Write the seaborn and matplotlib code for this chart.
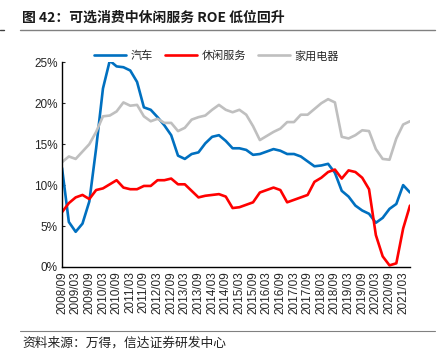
import matplotlib
matplotlib.use("Agg")
import matplotlib.pyplot as plt
import pandas as pd
import seaborn as sns

# quarterly ROE (%), 2008/09 .. 2021/06
quarters = [
    "2008/09", "2008/12", "2009/03", "2009/06", "2009/09", "2009/12",
    "2010/03", "2010/06", "2010/09", "2010/12", "2011/03", "2011/06",
    "2011/09", "2011/12", "2012/03", "2012/06", "2012/09", "2012/12",
    "2013/03", "2013/06", "2013/09", "2013/12", "2014/03", "2014/06",
    "2014/09", "2014/12", "2015/03", "2015/06", "2015/09", "2015/12",
    "2016/03", "2016/06", "2016/09", "2016/12", "2017/03", "2017/06",
    "2017/09", "2017/12", "2018/03", "2018/06", "2018/09", "2018/12",
    "2019/03", "2019/06", "2019/09", "2019/12", "2020/03", "2020/06",
    "2020/09", "2020/12", "2021/03", "2021/06",
]
auto = [
    12.1, 5.5, 4.3, 5.3, 8.0, 14.5, 21.8, 25.2, 24.5, 24.4, 24.0, 22.6,
    19.5, 19.2, 18.3, 17.3, 16.1, 13.6, 13.2, 13.8, 14.0, 15.1, 15.9, 16.1,
    15.4, 14.5, 14.5, 14.3, 13.7, 13.8, 14.1, 14.4, 14.2, 13.8, 13.8, 13.5,
    12.9, 12.3, 12.4, 12.6, 11.5, 9.3, 8.6, 7.5, 6.9, 6.5, 5.4, 6.0,
    7.1, 7.7, 10.0, 9.1,
]
leisure = [
    6.7, 7.8, 8.5, 8.8, 8.3, 9.4, 9.6, 10.1, 10.6, 9.7, 9.5, 9.5,
    9.9, 9.9, 10.6, 10.6, 10.8, 10.1, 10.1, 9.3, 8.5, 8.7, 8.8, 8.9,
    8.6, 7.2, 7.3, 7.6, 7.9, 9.1, 9.4, 9.7, 9.4, 7.9, 8.2, 8.5,
    8.8, 10.4, 10.9, 11.6, 11.9, 10.8, 11.8, 11.6, 10.9, 9.5, 3.9, 1.3,
    0.2, 0.45, 4.7, 7.5,
]
appliance = [
    12.8, 13.5, 13.2, 14.1, 15.0, 16.5, 18.4, 18.5, 19.0, 20.1, 19.7, 19.8,
    18.4, 17.8, 18.1, 17.6, 17.6, 16.6, 17.0, 18.0, 18.3, 18.5, 19.2, 19.8,
    19.2, 18.9, 19.2, 18.6, 17.2, 15.5, 16.0, 16.5, 16.9, 17.7, 17.7, 18.6,
    18.6, 19.3, 20.0, 20.5, 20.1, 15.9, 15.7, 16.1, 16.7, 16.6, 14.4, 13.2,
    13.1, 15.7, 17.4, 17.8,
]
series_names = ["汽车", "休闲服务", "家用电器"]
colors = ["#0070C0", "#FF0000", "#BFBFBF"]

n = len(quarters)
df = pd.DataFrame({
    "idx": list(range(n)) * 3,
    "roe": auto + leisure + appliance,
    "series": [s for s in series_names for _ in range(n)],
})

sns.set_style("white")
plt.rcParams["font.family"] = ["Liberation Sans", "Noto Sans CJK SC", "DejaVu Sans"]

fig = plt.figure(figsize=(4.38, 3.61), dpi=100)
ax = fig.add_axes([0.1416, 0.2604, 0.7944, 0.567])

sns.lineplot(data=df, x="idx", y="roe", hue="series", hue_order=series_names,
             palette=colors, linewidth=1.9, ax=ax)

ax.set_xlim(0, n - 1)
ax.set_ylim(0, 25)
ax.set_yticks([0, 5, 10, 15, 20, 25])
ax.set_yticklabels([f"{v}%" for v in [0, 5, 10, 15, 20, 25]], fontsize=8.5)
ax.set_xticks(range(0, n, 2))
ax.set_xticklabels(quarters[::2], rotation=90, fontsize=8.5)
ax.tick_params(axis="x", length=0, pad=3)
ax.tick_params(axis="y", direction="in", length=2, pad=3, left=True)
ax.set_xlabel("")
ax.set_ylabel("")
for side in ["top", "right"]:
    ax.spines[side].set_visible(False)
for side in ["left", "bottom"]:
    ax.spines[side].set_color("black")
    ax.spines[side].set_linewidth(1)

ax.legend(ncol=3, frameon=False, loc="center", bbox_to_anchor=(0.494, 0.845),
          bbox_transform=fig.transFigure, fontsize=8, handlelength=2.9,
          handletextpad=0.4, columnspacing=1.1)

fig.text(0.05, 0.95, "图 42：可选消费中休闲服务 ROE 低位回升", fontsize=10,
         fontweight="bold", color="#1a1a1a", va="center", ha="left",
         family=["Noto Sans CJK SC", "DejaVu Sans"])
fig.add_artist(plt.Line2D([0.046, 0.993], [0.917, 0.917], color="#808080",
                          linewidth=1, transform=fig.transFigure))
fig.add_artist(plt.Line2D([0.0, 0.008], [0.917, 0.917], color="#404040",
                          linewidth=1, transform=fig.transFigure))
fig.add_artist(plt.Line2D([0.046, 0.993], [0.083, 0.083], color="#808080",
                          linewidth=0.8, transform=fig.transFigure))
fig.text(0.05, 0.05, "资料来源：万得，信达证券研发中心", fontsize=9.2,
         style="italic", color="#222222", va="center", ha="left",
         family=["Noto Sans CJK SC", "DejaVu Sans"])

fig.savefig("out.png", dpi=100)
